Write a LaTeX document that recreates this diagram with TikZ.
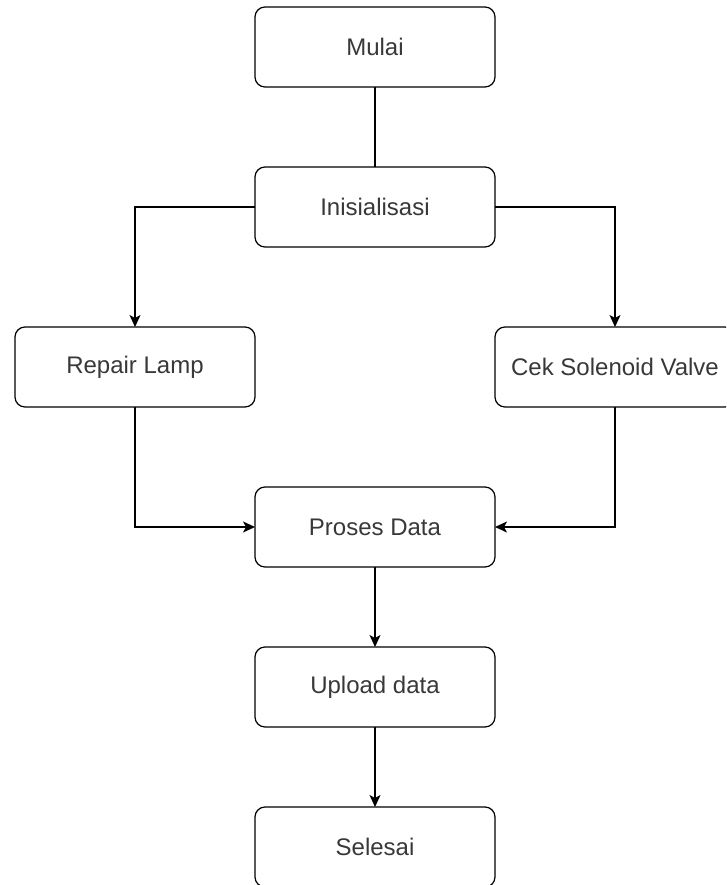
\documentclass[tikz,border=0pt]{standalone}
\usepackage{fontspec}
\setmainfont{Liberation Sans}
\usetikzlibrary{arrows.meta,positioning}

\begin{document}
\begin{tikzpicture}[
  x=1pt, y=1pt,
  box/.style={rectangle, draw, rounded corners=10pt, line width=1.2pt,
              minimum width=240pt, minimum height=80pt, inner sep=0pt,
              outer sep=0pt, align=center,
              font=\fontsize{24}{28}\selectfont, text=black!78},
  arr/.style={draw, line width=1.2pt, -{Stealth[length=12pt,width=11pt,inset=3pt]}},
  line/.style={draw, line width=1.2pt},
  node distance=80pt
]
\useasboundingbox (0,0) rectangle (726,-885);
\clip (0,0) rectangle (726,-885);
\node[box] (mulai) at (375,-47) {Mulai};
\node[box, below=of mulai] (init) {Inisialisasi};
\node[box, below left=80pt and 0pt of init] (lamp) {Repair Lamp};
\node[box, below right=80pt and 0pt of init] (valve) {Cek Solenoid Valve};
\node[box, below right=80pt and 0pt of lamp] (proses) {Proses Data};
\node[box, below=of proses] (upload) {Upload data};
\node[box, below=of upload] (selesai) {Selesai};
\draw[line] (mulai)--(init);
\draw[arr] (init.west) -| (lamp.north);
\draw[arr] (init.east) -| (valve.north);
\draw[arr] (lamp.south) |- (proses.west);
\draw[arr] (valve.south) |- (proses.east);
\draw[arr] (proses)--(upload);
\draw[arr] (upload)--(selesai);
\end{tikzpicture}
\end{document}
